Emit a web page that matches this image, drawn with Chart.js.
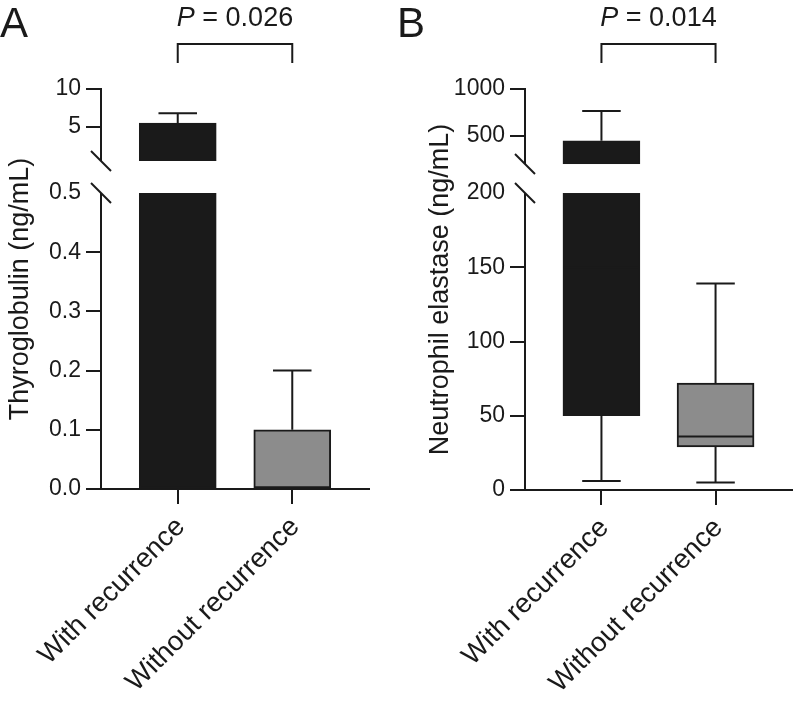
<!DOCTYPE html>
<html>
<head>
<meta charset="utf-8">
<script src="https://cdn.jsdelivr.net/npm/chart.js@4.4.1/dist/chart.umd.min.js"></script>
<style>
  html, body { margin: 0; padding: 0; background: #fff; }
  body { width: 793px; height: 703px; position: relative; overflow: hidden;
         font-family: 'Liberation Sans', Arial, sans-serif; color: #1a1a1a; }
  canvas { position: absolute; top: 0; }
  #chartA { left: 0; }
  #chartB { left: 396px; }
  .panel { position: absolute; top: 2px; font-size: 42px; line-height: 42px; }
  .pval { position: absolute; top: 4px; font-size: 27px; line-height: 27px;
          white-space: nowrap; transform: translateX(-50%); }
</style>
</head>
<body>
<canvas id="chartA" width="390" height="703"></canvas>
<canvas id="chartB" width="397" height="703"></canvas>
<div class="panel" style="left:0">A</div>
<div class="panel" style="left:397px">B</div>
<div class="pval" id="pA"><i>P</i> = 0.026</div>
<div class="pval" id="pB"><i>P</i> = 0.014</div>
<script>
const groups = ['With recurrence', 'Without recurrence'];

// Thyroglobulin (ng/mL)
const tgMin = [0, 0];
const tgQ1 = [0, 0];
const tgMedian = [0.3, 0];
const tgQ3 = [5.5, 0.1];
const tgMax = [6.8, 0.2];
const tgTicks = [0, 0.1, 0.2, 0.3, 0.4, 0.5, 5, 10];
const tgTickLabels = ['0.0', '0.1', '0.2', '0.3', '0.4', '0.5', '5', '10'];

// Neutrophil elastase (ng/mL)
const neMin = [6, 5];
const neQ1 = [50, 29];
const neMedian = [150, 36];
const neQ3 = [447, 72];
const neMax = [766, 139];
const neTicks = [0, 50, 100, 150, 200, 500, 1000];
const neTickLabels = ['0', '50', '100', '150', '200', '500', '1000'];

const boxColors = ['#1a1a1a', '#8c8c8c'];
const ink = '#1a1a1a';

Chart.defaults.font.family = "'Liberation Sans', Arial, sans-serif";
Chart.defaults.color = ink;

// linear axis with a gap: lower part [min, breakAt], upper part [breakAt, max]
class BrokenScale extends Chart.LinearScale {
    getPixelForValue(value) {
        if (value === null || isNaN(value)) return NaN;
        const { breakAt, lowPart, gapPart } = this.options.split;
        let dec;
        if (value <= breakAt) {
            dec = (value - this.min) / (breakAt - this.min) * lowPart;
        } else {
            dec = lowPart + gapPart + (value - breakAt) / (this.max - breakAt) * (1 - lowPart - gapPart);
        }
        return this.getPixelForDecimal(dec);
    }
    getValueForPixel(pixel) {
        const { breakAt, lowPart, gapPart } = this.options.split;
        const dec = this.getDecimalForPixel(pixel);
        if (dec <= lowPart) return this.min + dec / lowPart * (breakAt - this.min);
        if (dec < lowPart + gapPart) return breakAt;
        return breakAt + (dec - lowPart - gapPart) / (1 - lowPart - gapPart) * (this.max - breakAt);
    }
}
BrokenScale.id = 'broken';
BrokenScale.defaults = {};
Chart.register(BrokenScale);

const boxWhiskers = {
    id: 'boxWhiskers',
    afterDatasetsDraw(chart, args, opts) {
        const { ctx, chartArea: area, scales: { y } } = chart;
        const st = opts.stats;
        const split = y.options.split;
        const gapBottom = y.getPixelForValue(split.breakAt);
        const gapTop = y.getPixelForDecimal(split.lowPart + split.gapPart);
        const bars = chart.getDatasetMeta(0).data;

        ctx.save();
        // cut the axis and boxes at the break
        ctx.fillStyle = '#fff';
        ctx.fillRect(area.left - 3, gapTop, area.right - area.left + 3, gapBottom - gapTop);

        ctx.strokeStyle = ink;
        ctx.lineWidth = 2;
        [gapTop, gapBottom].forEach(py => {
            ctx.beginPath();
            ctx.moveTo(area.left - 10, py - 10);
            ctx.lineTo(area.left + 10, py + 10);
            ctx.stroke();
        });

        bars.forEach((bar, i) => {
            const cap = bar.width / 4;
            const yQ1 = y.getPixelForValue(st.q1[i]);
            const yQ3 = y.getPixelForValue(st.q3[i]);
            const yMin = y.getPixelForValue(st.min[i]);
            const yMax = y.getPixelForValue(st.max[i]);
            const yMed = y.getPixelForValue(st.median[i]);
            ctx.beginPath();
            if (st.max[i] > st.q3[i]) {
                ctx.moveTo(bar.x, yQ3);
                ctx.lineTo(bar.x, yMax);
                ctx.moveTo(bar.x - cap, yMax);
                ctx.lineTo(bar.x + cap, yMax);
            }
            if (st.min[i] < st.q1[i]) {
                ctx.moveTo(bar.x, yQ1);
                ctx.lineTo(bar.x, yMin);
                ctx.moveTo(bar.x - cap, yMin);
                ctx.lineTo(bar.x + cap, yMin);
            }
            ctx.moveTo(bar.x - bar.width / 2 + 1, yMed);
            ctx.lineTo(bar.x + bar.width / 2 - 1, yMed);
            ctx.stroke();
        });

        // significance bracket
        const top = area.top - 45, foot = area.top - 26;
        ctx.beginPath();
        ctx.moveTo(bars[0].x, foot);
        ctx.lineTo(bars[0].x, top);
        ctx.lineTo(bars[1].x, top);
        ctx.lineTo(bars[1].x, foot);
        ctx.stroke();
        ctx.restore();
    }
};

function makePanel(id, cfg) {
    const lastTick = cfg.ticks[cfg.ticks.length - 1];
    return new Chart(document.getElementById(id), {
        type: 'bar',
        data: {
            datasets: [{
                data: groups.map((g, i) => ({ x: i + 1, y: [cfg.q1[i], cfg.q3[i]] })),
                backgroundColor: boxColors,
                borderColor: ink,
                borderWidth: 2,
                borderSkipped: false,
                barThickness: 77
            }]
        },
        options: {
            responsive: false,
            animation: false,
            events: [],
            layout: { padding: { top: 89, left: cfg.padLeft, right: cfg.padRight, bottom: 0 } },
            plugins: {
                legend: { display: false },
                tooltip: { enabled: false },
                boxWhiskers: { stats: cfg }
            },
            scales: {
                x: {
                    type: 'linear',
                    min: 0.33,
                    max: 2.67,
                    offset: false,
                    afterBuildTicks: s => { s.ticks = groups.map((g, i) => ({ value: i + 1 })); },
                    afterFit: s => { s.height = cfg.xHeight; },
                    grid: { drawOnChartArea: false, offset: false, color: ink, lineWidth: 2, tickLength: 15 },
                    border: { color: ink, width: 2 },
                    ticks: {
                        autoSkip: false, minRotation: 45, maxRotation: 45, padding: 7, labelOffset: 3,
                        color: ink, font: { size: 27.5 },
                        callback: (v, i) => groups[i]
                    }
                },
                y: {
                    type: 'broken',
                    min: 0,
                    max: lastTick,
                    bounds: 'data',
                    split: cfg.split,
                    afterBuildTicks: s => { s.ticks = cfg.ticks.map(v => ({ value: v })); },
                    afterFit: s => { s.width = cfg.yWidth; },
                    grid: {
                        drawOnChartArea: false, color: ink, lineWidth: 2, tickLength: 15,
                        tickColor: c => (c.tick && c.tick.value === cfg.split.breakAt) ? 'rgba(0,0,0,0)' : ink
                    },
                    border: { color: ink, width: 2 },
                    ticks: {
                        autoSkip: false, padding: 5, color: ink, font: { size: 23 },
                        callback: (v, i) => cfg.tickLabels[i]
                    },
                    title: {
                        display: true, text: cfg.title, color: ink,
                        font: { size: 27 }, padding: { top: 4, bottom: 0 }
                    }
                }
            }
        },
        plugins: [boxWhiskers]
    });
}

const chartA = makePanel('chartA', {
    title: 'Thyroglobulin (ng/mL)',
    min: tgMin, q1: tgQ1, median: tgMedian, q3: tgQ3, max: tgMax,
    ticks: tgTicks, tickLabels: tgTickLabels,
    split: { breakAt: 0.5, lowPart: 0.74, gapPart: 0.08 },
    padLeft: 0, padRight: 21, yWidth: 101, xHeight: 214
});

const chartB = makePanel('chartB', {
    title: 'Neutrophil elastase (ng/mL)',
    min: neMin, q1: neQ1, median: neMedian, q3: neQ3, max: neMax,
    ticks: neTicks, tickLabels: neTickLabels,
    split: { breakAt: 200, lowPart: 0.7406, gapPart: 0.0723 },
    padLeft: 24, padRight: 1, yWidth: 105, xHeight: 213
});

// centre the P values over the brackets
function placeP(chart, el, canvasLeft) {
    const d = chart.getDatasetMeta(0).data;
    el.style.left = (canvasLeft + (d[0].x + d[1].x) / 2) + 'px';
}
placeP(chartA, document.getElementById('pA'), 0);
placeP(chartB, document.getElementById('pB'), 396);
</script>
</body>
</html>
